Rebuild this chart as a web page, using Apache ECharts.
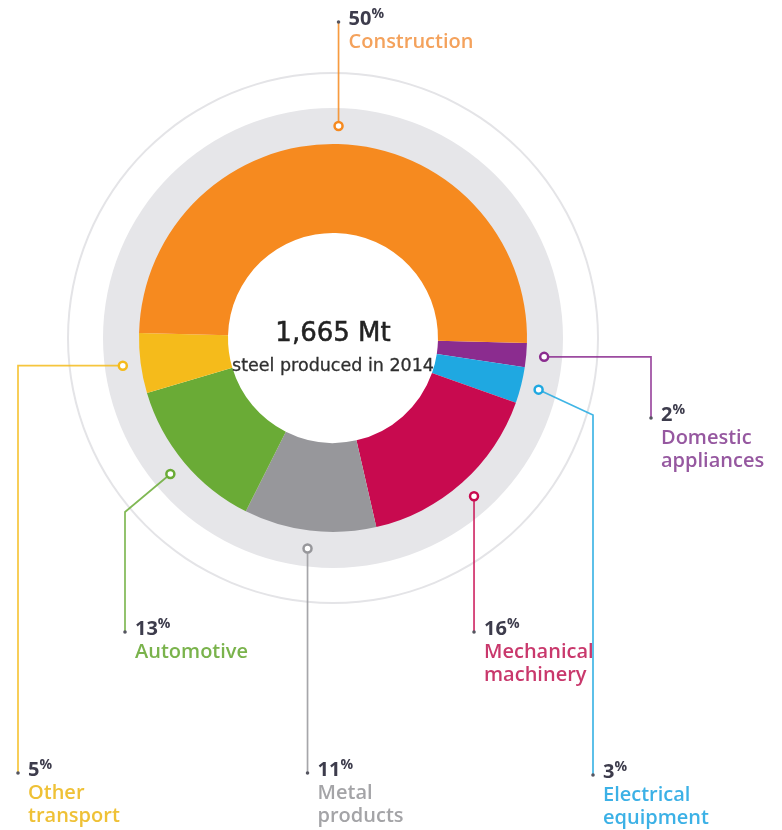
<!DOCTYPE html>
<html><head><meta charset="utf-8">
<script src="https://cdn.jsdelivr.net/npm/echarts@6/dist/echarts.min.js"></script>
<style>html,body{margin:0;padding:0;background:#fff}#main{width:782px;height:830px}</style>
</head><body><div id="main"></div>
<script>
// ---- data ----
const categories = ['Domestic appliances','Electrical equipment','Mechanical machinery','Metal products','Automotive','Other transport','Construction'];
const shares = [2, 3, 16, 11, 13, 5, 50];
const labelLines = [['Domestic','appliances'],['Electrical','equipment'],['Mechanical','machinery'],['Metal','products'],['Automotive'],['Other','transport'],['Construction']];
const totalText = '1,665 Mt';
const subText = 'steel produced in 2014';

// ---- styles / layout ----
const sliceColors = ['#8b2c8f','#1fa8e1','#c80a4f','#97979b','#6aab36','#f5bb1b','#f68a1f'];
const nameColors  = ['#9658a0','#3cb1e6','#c9386c','#a4a4a7','#7ab34c','#efc136','#f4a25c'];
const CX = 333, CY = 338;
const R_IN = 105, R_OUT = 194, R_BAND = 230, R_MARK = 212, R_RING = 265;
// leader routes after the marker: h = horizontal to x, v = vertical to y, p = point
const routes = [
  [['h',651],['v',418]],
  [['p',593,415],['v',775]],
  [['v',632]],
  [['v',773]],
  [['p',125,512],['v',632]],
  [['h',18],['v',773]],
  [['v',22]]
];
const START = -1.5;

const chart = echarts.init(document.getElementById('main'));
chart.setOption({
  animation: false,
  backgroundColor: '#ffffff',
  series: [
    { type:'pie', silent:true, center:[CX,CY], radius:[R_RING-1, R_RING+1], label:{show:false}, labelLine:{show:false},
      itemStyle:{color:'#e4e4e7', borderWidth:0}, data:[{value:1,name:'ring'}], z:1 },
    { type:'pie', silent:true, center:[CX,CY], radius:[R_OUT-4, R_BAND], label:{show:false}, labelLine:{show:false},
      itemStyle:{color:'#e6e6e9', borderWidth:0}, data:[{value:1,name:'band'}], z:2 },
    { type:'pie', name:'Steel use', silent:true, center:[CX,CY], radius:[R_IN, R_OUT], startAngle: START, clockwise:true,
      label:{show:false}, labelLine:{show:false}, z:3,
      data: categories.map((c,i)=>({name:c, value:shares[i], itemStyle:{color:sliceColors[i], borderWidth:0}})) }
  ]
});

function markers(){
  const pts = [];
  try {
    const data = chart.getModel().getSeriesByIndex(2).getData();
    for (let i=0;i<categories.length;i++){
      const l = data.getItemLayout(i);
      const mid = (l.startAngle + l.endAngle)/2;
      pts.push([l.cx + R_MARK*Math.cos(mid), l.cy + R_MARK*Math.sin(mid)]);
    }
    return pts;
  } catch(e) {
    const total = shares.reduce((a,b)=>a+b,0);
    let a = -START*Math.PI/180;
    for (let i=0;i<shares.length;i++){
      const span = shares[i]/total*2*Math.PI;
      const mid = a + span/2; a += span;
      pts.push([CX + R_MARK*Math.cos(mid), CY + R_MARK*Math.sin(mid)]);
    }
    return pts;
  }
}

const pts = markers();
const graphics = [];
pts.forEach((m,i)=>{
  const poly = [m.slice()];
  let cur = m.slice();
  routes[i].forEach(r=>{
    if (r[0]==='h') cur = [r[1], cur[1]];
    else if (r[0]==='v') cur = [cur[0], r[1]];
    else cur = [r[1], r[2]];
    poly.push(cur.slice());
  });
  const end = cur;
  graphics.push({type:'polyline', z:10, shape:{points:poly}, style:{stroke:sliceColors[i], lineWidth:1.7, fill:null, opacity:0.85}, silent:true});
  graphics.push({type:'circle', z:11, shape:{cx:m[0], cy:m[1], r:4}, style:{fill:'#fff', stroke:sliceColors[i], lineWidth:2.5}, silent:true});
  graphics.push({type:'circle', z:11, shape:{cx:end[0], cy:end[1], r:1.8}, style:{fill:'#555560'}, silent:true});
  const txt = '{p|' + shares[i] + '}{s|%}\n' + labelLines[i].map(l=>'{n|'+l+'}').join('\n');
  graphics.push({type:'text', z:12, x:end[0]+10, y:end[1]-15, silent:true,
    style:{text:txt, align:'left', verticalAlign:'top',
      rich:{
        p:{fontFamily:'Open Sans', fontWeight:700, fontSize:20, fill:'#3d3c4c', lineHeight:24},
        s:{fontFamily:'Open Sans', fontWeight:700, fontSize:14, fill:'#3d3c4c', lineHeight:15, verticalAlign:'top'},
        n:{fontFamily:'Open Sans', fontWeight:600, fontSize:20, fill:nameColors[i], lineHeight:23}
      }}});
});
graphics.push({type:'text', z:12, x:CX, y:CY-4, silent:true,
  style:{text:totalText, align:'center', verticalAlign:'middle', fontFamily:'DejaVu Sans', fontSize:26, fill:'#222', stroke:'#222', lineWidth:0.5}});
graphics.push({type:'text', z:12, x:CX, y:CY+28, silent:true,
  style:{text:subText, align:'center', verticalAlign:'middle', fontFamily:'DejaVu Sans', fontSize:17.5, fill:'#2e2e2e', stroke:'#2e2e2e', lineWidth:0.3}});
chart.setOption({graphic: graphics});
</script></body></html>
